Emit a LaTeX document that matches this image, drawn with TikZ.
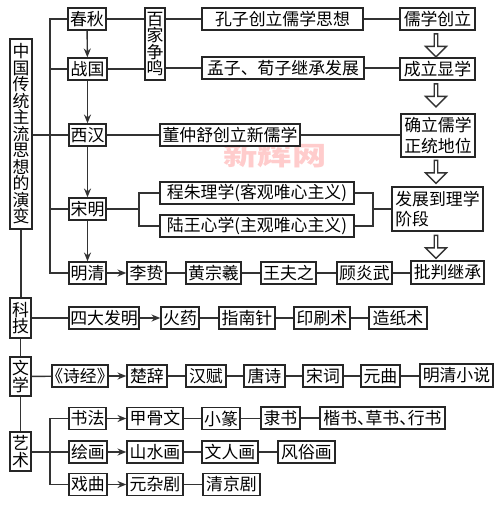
\documentclass[tikz,border=0pt]{standalone}
\usepackage{fontspec}
\setmainfont{Noto Sans CJK SC}
\usetikzlibrary{arrows.meta,shapes.arrows}
\newcommand{\dunhao}{、\kern-.5em}
\newcommand{\shufont}{\fontsize{9.6}{9.4}\selectfont\setlength{\lineskiplimit}{-20pt}}
\tikzset{
  box/.style={draw=black!85, line width=0.8pt, fill=white, inner sep=0pt, minimum height=22*0.02cm,
    align=center, font=\fontsize{9.6}{11.9}\selectfont},
  wd/.style={minimum width=#1*0.02cm},
  shubox/.style={box, font=\shufont},
  line/.style={draw=black!80, line width=0.8pt},
  arr/.style={line, -{Stealth[length=5pt,width=4pt]}},
  hollow/.style={draw=black!80, line width=0.8pt, fill=white, single arrow, shape border rotate=270, inner sep=0pt,
    minimum height=23*0.02cm, minimum width=21*0.02cm, single arrow head extend=3.5*0.02cm}
}
\begin{document}
\begin{tikzpicture}[x=0.02cm, y=-0.02cm]
  \useasboundingbox (0,0) rectangle (500,505);
  % 水印
  \node[text=red!20, font=\fontsize{15}{15}\selectfont\bfseries, xscale=1.3, transform shape, inner sep=0pt] (shuiyin) at (275,155) {新辉网};

  % 左列
  \node[shubox, wd=22, minimum height=190*0.02cm] (zhongguo) at (21,134) {中\\国\\传\\统\\主\\流\\思\\想\\的\\演\\变};
  \node[shubox, wd=21, minimum height=40*0.02cm] (keji) at (20.5,318) {科\\技};
  \node[shubox, wd=21, minimum height=39*0.02cm] (wenxue) at (20.5,376.5) {文\\学};
  \node[shubox, wd=21, minimum height=39*0.02cm] (yishu) at (20.5,451.5) {艺\\术};

  % 朝代
  \node[box, wd=38] (chunqiu) at (87,19) {春秋};
  \node[box, wd=39] (zhanguo) at (87.5,69) {战国};
  \node[box, wd=37] (xihan) at (87.5,135) {西汉};
  \node[box, wd=37] (songming) at (87.5,209) {宋明};
  \node[box, wd=37] (mingqing) at (87.5,273) {明清};

  \node[shubox, wd=20, minimum height=72*0.02cm] (baijia) at (155,44) {百\\家\\争\\鸣};
  \node[box, wd=161] (kongzi) at (282.5,19) {孔子创立儒学思想};
  \node[box, wd=162] (mengzi) at (283,68) {孟子、荀子继承发展};
  \node[box, wd=140] (dong) at (230,135) {董仲舒创立新儒学};
  \node[box, wd=194] (chengzhu) at (257,193) {程朱理学(客观唯心主义)};
  \node[box, wd=194] (luwang) at (257,226) {陆王心学(主观唯心主义)};

  \node[box, wd=75] (chuangli) at (437.5,19) {儒学创立};
  \node[box, wd=75] (xianxue) at (437.5,69) {成立显学};
  \node[box, wd=74, minimum height=43*0.02cm] (zhengtong) at (438,135.5) {确立儒学\\正统地位};
  \node[box, wd=91, minimum height=44*0.02cm, align=left] (lixue) at (437.5,209) {发展到理学\\阶段};
  \node[box, wd=73, minimum height=23*0.02cm] (pipan) at (447.5,272.5) {批判继承};

  \node[hollow] (ka) at (436,44.5) {};
  \node[hollow] (kb) at (436,94.5) {};
  \node[hollow] (kc) at (436,171) {};
  \node[hollow] (kd) at (436,246) {};

  % 明清一行
  \node[box, wd=39] (lizhi) at (146.5,273) {李贽};
  \node[box, wd=55] (huang) at (213.5,273) {黄宗羲};
  \node[box, wd=55] (wang) at (288.5,273) {王夫之};
  \node[box, wd=55] (gu) at (364.5,273) {顾炎武};

  % 科技
  \node[box, wd=70] (sida) at (104,318) {四大发明};
  \node[box, wd=38] (huoyao) at (180,318) {火药};
  \node[box, wd=56] (zhinan) at (247,318) {指南针};
  \node[box, wd=56] (yinshua) at (322,318) {印刷术};
  \node[box, wd=58] (zaozhi) at (398,318) {造纸术};

  % 文学
  \node[box, wd=56] (shijing) at (80,376) {\kern-.4em《诗经》\kern-.4em};
  \node[box, wd=40] (chuci) at (147,376) {楚辞};
  \node[box, wd=40] (hanfu) at (206,376) {汉赋};
  \node[box, wd=41] (tangshi) at (264.5,376) {唐诗};
  \node[box, wd=40] (songci) at (323,376) {宋词};
  \node[box, wd=39] (yuanqu) at (380.5,376) {元曲};
  \node[box, wd=73, minimum height=23*0.02cm] (xiaoshuo) at (456.5,375.5) {明清小说};

  % 艺术
  \node[box, wd=37] (shufa) at (87.5,418.5) {书法};
  \node[box, wd=56] (jiagu) at (155,418.5) {甲骨文};
  \node[box, wd=38] (xiaozhuan) at (221,418.5) {小篆};
  \node[box, wd=39] (lishu) at (280.5,418) {隶书};
  \node[box, wd=125] (kaishu) at (382.5,418) {楷书\dunhao 草书\dunhao 行书};
  \node[box, wd=38] (huihua) at (88,452) {绘画};
  \node[box, wd=56] (shanshui) at (155,452) {山水画};
  \node[box, wd=56] (wenren) at (230,452) {文人画};
  \node[box, wd=57] (fengsu) at (306.5,452) {风俗画};
  \node[box, wd=38] (xiqu) at (88,484.5) {戏曲};
  \node[box, wd=56] (zaju) at (155,484.5) {元杂剧};
  \node[box, wd=57] (jingju) at (231.5,484.5) {清京剧};

  \coordinate (brA) at (50,19);
  \coordinate (brB) at (50,418.5);
  \coordinate (brC) at (139,209);
  \coordinate (brD) at (373,209);

  % 左侧主干
  \draw[line] (zhongguo) -- (zhongguo |- keji.north);
  \draw[line] (keji) -- (wenxue);
  \draw[line] (wenxue) -- (yishu);
  \draw[line] (zhongguo.east |- xihan) -- (xihan);
  \draw[line] (keji) -- (sida);
  \draw[line] (wenxue) -- (shijing);
  \draw[line] (yishu.east |- huihua) -- (huihua);

  % 括号
  \draw[line] (chunqiu) -- (brA) |- (mingqing);
  \draw[line] (zhanguo) -- (zhanguo -| brA);
  \draw[line] (songming) -- (songming -| brA);
  \draw[line] (shufa) -- (brB) |- (xiqu);
  \draw[line] (songming) -- (brC);
  \draw[line] (brC) |- (chengzhu);
  \draw[line] (brC) |- (luwang);
  \draw[line] (chengzhu) -| (brD);
  \draw[line] (luwang) -| (brD);
  \draw[line] (brD) -- (lixue);

  % 朝代之间
  \draw[arr] (chunqiu) -- (zhanguo);
  \draw[arr] (zhanguo) -- (xihan);
  \draw[arr] (xihan) -- (songming);
  \draw[arr] (songming) -- (mingqing);

  \draw[line] (chunqiu) -- (baijia.west |- chunqiu);
  \draw[line] (zhanguo) -- (baijia.west |- zhanguo);
  \draw[line] (baijia.east |- kongzi) -- (kongzi);
  \draw[line] (baijia.east |- mengzi) -- (mengzi);
  \draw[line] (kongzi) -- (chuangli);
  \draw[line] (mengzi) -- (xianxue.west |- mengzi);
  \draw[line] (xihan) -- (dong);
  \draw[line] (dong) -- (zhengtong.west |- dong);

  % 各行
  \draw[arr] (mingqing) -- (lizhi);
  \draw[line] (lizhi) -- (huang);
  \draw[line] (huang) -- (wang);
  \draw[line] (wang) -- (gu);
  \draw[line] (gu) -- (pipan.west |- gu);
  \draw[arr] (sida) -- (huoyao);
  \draw[line] (huoyao) -- (zhinan);
  \draw[line] (zhinan) -- (yinshua);
  \draw[line] (yinshua) -- (zaozhi);
  \draw[arr] (shijing) -- (chuci);
  \draw[line] (chuci) -- (hanfu);
  \draw[line] (hanfu) -- (tangshi);
  \draw[line] (tangshi) -- (songci);
  \draw[line] (songci) -- (yuanqu);
  \draw[line] (yuanqu) -- (xiaoshuo.west |- yuanqu);
  \draw[arr] (shufa) -- (jiagu);
  \draw[line] (jiagu) -- (xiaozhuan);
  \draw[line] (xiaozhuan) -- (lishu.west |- xiaozhuan);
  \draw[line] (lishu) -- (kaishu);
  \draw[arr] (huihua) -- (shanshui);
  \draw[line] (shanshui) -- (wenren);
  \draw[line] (wenren) -- (fengsu);
  \draw[arr] (xiqu) -- (zaju);
  \draw[line] (zaju) -- (jingju);
\end{tikzpicture}
\end{document}
